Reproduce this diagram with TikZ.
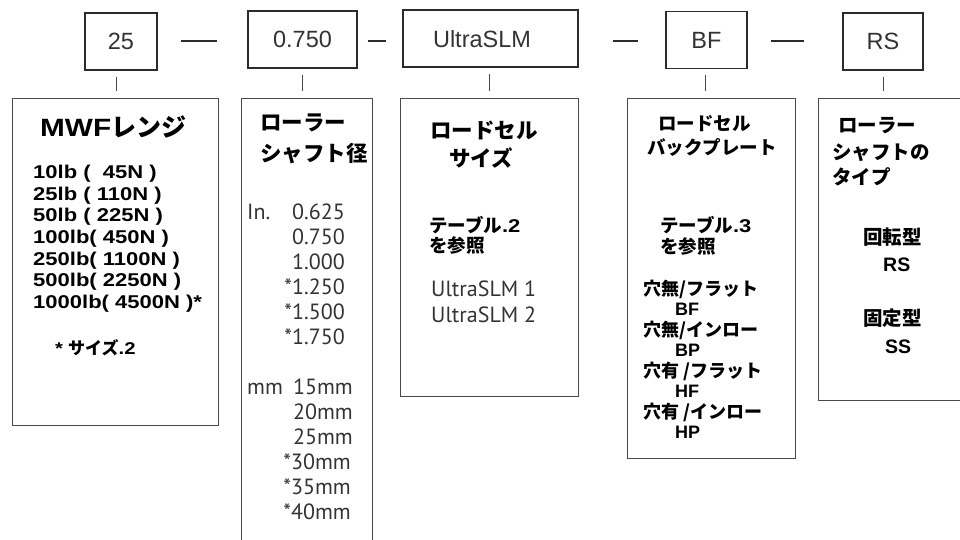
\documentclass[tikz,border=0pt]{standalone}
\usepackage{fontspec}
\newfontfamily\JP{Noto Sans CJK JP}
\newfontfamily\LBs{Liberation Sans}[FakeStretch=1.19]
\newfontfamily\LR{Liberation Sans}
\newfontfamily\PT{PT Sans}
\usetikzlibrary{calc}
\definecolor{lc}{HTML}{2B2B2B}
\definecolor{bc}{HTML}{4A4A4A}
\definecolor{tc}{HTML}{333333}
\newcommand\fs[1]{\fontsize{#1}{#1}\selectfont}
\newcommand\jb{\JP\bfseries}
\newcommand\lbs{\LBs\bfseries}
\newcommand\lb{\LR\bfseries}
\tikzset{
  topbox/.style={draw=lc, line width=1.6pt, minimum height=57pt, inner sep=0pt, font=\LR\fs{23.5}, text=tc},
  lowbox/.style={draw=bc, line width=1pt, anchor=north west, inner sep=0pt},
  dashline/.style={draw=lc, line width=1.4pt},
  tickline/.style={draw=bc, line width=1pt, shorten <=6pt, shorten >=7pt},
  bw/.style={anchor=base west, inner sep=0pt},
  be/.style={anchor=base east, inner sep=0pt},
  bc/.style={anchor=base, inner sep=0pt},
  numtxt/.style={font=\PT\fs{22}, text=tc},
}
\begin{document}
\begin{tikzpicture}[x=1pt,y=-1pt]
\useasboundingbox (0,0) rectangle (960,540);
\fill[white] (0,0) rectangle (960,540);

% top boxes
\node[topbox, minimum width=72pt]  (b1) at (121,41.5) {25};
\node[topbox, minimum width=109pt] (b2) at (302.5,39.5) {0.750};
\node[topbox, minimum width=175pt] (b3) at (490.5,38.5) {};
\node[font=\LR\fs{23.5}, text=tc, inner sep=0pt] (t3) at (482,39) {UltraSLM};
\node[topbox, minimum width=81pt]  (b4) at (706.5,40) {BF};
\node[topbox, minimum width=80pt]  (b5) at (883,41.5) {RS};

% dashes
\draw[dashline, shorten <=23pt, shorten >=30pt] (b1.east |- 0,41) -- (b2.west |- 0,41);
\draw[dashline, shorten <=10pt, shorten >=16pt] (b2.east |- 0,41) -- (b3.west |- 0,41);
\draw[dashline, shorten <=34pt, shorten >=27pt] (b3.east |- 0,41) -- (b4.west |- 0,41);
\draw[dashline, shorten <=23pt, shorten >=38pt] (b4.east |- 0,41) -- (b5.west |- 0,41);

% lower boxes
\node[lowbox, minimum width=206pt, minimum height=327pt] (L1) at (12,98) {};
\node[lowbox, minimum width=131pt, minimum height=470pt] (L2) at (241,98) {};
\node[lowbox, minimum width=178pt, minimum height=298pt] (L3) at (400,98) {};
\node[lowbox, minimum width=168pt, minimum height=360pt] (L4) at (627,98) {};
\node[lowbox, minimum width=170pt, minimum height=302pt] (L5) at (818,98) {};

% ticks
\draw[tickline] ([xshift=-5pt]b1.south) -- ([xshift=-5pt]b1.south |- L1.north);
\draw[tickline] ([xshift=-0.5pt]b2.south) -- ([xshift=-0.5pt]b2.south |- L2.north);
\draw[tickline] ([xshift=-1.5pt]b3.south) -- ([xshift=-1.5pt]b3.south |- L3.north);
\draw[tickline] ([xshift=-1.5pt]b4.south) -- ([xshift=-1.5pt]b4.south |- L4.north);
\draw[tickline] (b5.south) -- (b5.south |- L5.north);

% box 1
\node[bw] (a0) at (40,137) {\fs{25}{\lbs MWF}{\jb レンジ}};
\begin{scope}[every node/.style={bw, font=\lbs\fs{18.5}}]
\node (a1) at (33,178.6) {10lb (\ \ 45N )};
\node (a2) at (33,200.3) {25lb ( 110N )};
\node (a3) at (33,221.9) {50lb ( 225N )};
\node (a4) at (33,243.6) {100lb( 450N )};
\node (a5) at (33,265.3) {250lb( 1100N )};
\node (a6) at (33,286.9) {500lb( 2250N )};
\node (a7) at (33,308.6) {1000lb( 4500N )*};
\end{scope}
\node[bw] (a8) at (55,354.4) {\fs{17}{\lbs *} {\jb サイズ}{\lbs .2}};

% box 2
\node[bw, font=\jb\fs{21.5}] (c0) at (260,130.2) {ローラー};
\node[bw, font=\jb\fs{21.5}] (c1) at (260,161.2) {シャフト径};
\node[bw, numtxt] (c2) at (247,219.7) {In.};
\node[be, numtxt] (c3) at (345,219.7) {0.625};
\node[be, numtxt] (c4) at (345,244.7) {0.750};
\node[be, numtxt] (c5) at (345,269.7) {1.000};
\node[be, numtxt] (c6) at (345,294.7) {*1.250};
\node[be, numtxt] (c7) at (345,319.7) {*1.500};
\node[be, numtxt] (c8) at (345,344.7) {*1.750};
\node[bw, numtxt] (c9) at (247,394.7) {mm};
\node[be, numtxt] (c10) at (353,394.7) {15mm};
\node[be, numtxt] (c11) at (353,419.7) {20mm};
\node[be, numtxt] (c12) at (353,444.7) {25mm};
\node[be, numtxt] (c13) at (351,469.7) {*30mm};
\node[be, numtxt] (c14) at (351,494.7) {*35mm};
\node[be, numtxt] (c15) at (351,519.7) {*40mm};

% box 3
\node[bw, font=\jb\fs{21.5}] (d0) at (430,138.2) {ロードセル};
\node[bc, font=\jb\fs{21.5}] (d1) at (481,166.2) {サイズ};
\node[bw] (d2) at (429,232.5) {\fs{18.5}{\jb テーブル}{\lbs .2}};
\node[bw, font=\jb\fs{18.5}] (d3) at (429,252.5) {を参照};
\node[bw, numtxt] (d4) at (431,296.7) {UltraSLM 1};
\node[bw, numtxt] (d5) at (431,322.7) {UltraSLM 2};

% box 4
\node[bw, font=\jb\fs{18.5}] (e0) at (658,131) {ロードセル};
\node[bw, font=\jb\fs{18.5}] (e1) at (647,155) {バックプレート};
\node[bw] (e2) at (660,232.5) {\fs{18.5}{\jb テーブル}{\lbs .3}};
\node[bw, font=\jb\fs{18.5}] (e3) at (660,253.5) {を参照};
\node[bw, font=\jb\fs{18}] (e4) at (643,295.8) {穴無/フラット};
\node[bw, font=\lb\fs{18}] (e5) at (675,315.5) {BF};
\node[bw, font=\jb\fs{18}] (e6) at (643,336.8) {穴無/インロー};
\node[bw, font=\lb\fs{18}] (e7) at (675,356.5) {BP};
\node[bw, font=\jb\fs{18}] (e8) at (643,377.8) {穴有 /フラット};
\node[bw, font=\lb\fs{18}] (e9) at (675,397.5) {HF};
\node[bw, font=\jb\fs{18}] (e10) at (643,418.8) {穴有 /インロー};
\node[bw, font=\lb\fs{18}] (e11) at (675,438.5) {HP};

% box 5
\node[bw, font=\jb\fs{19.5}] (f0) at (838,132.4) {ローラー};
\node[bw, font=\jb\fs{19.5}] (f1) at (832,159.4) {シャフトの};
\node[bw, font=\jb\fs{19.5}] (f2) at (832,184.4) {タイプ};
\node[bw, font=\jb\fs{19.5}] (f3) at (863,244.4) {回転型};
\node[bw, font=\lb\fs{19.5}] (f4) at (883,271) {RS};
\node[bw, font=\jb\fs{19.5}] (f5) at (863,325.4) {固定型};
\node[bw, font=\lb\fs{19.5}] (f6) at (885,353) {SS};
\end{tikzpicture}
\end{document}
